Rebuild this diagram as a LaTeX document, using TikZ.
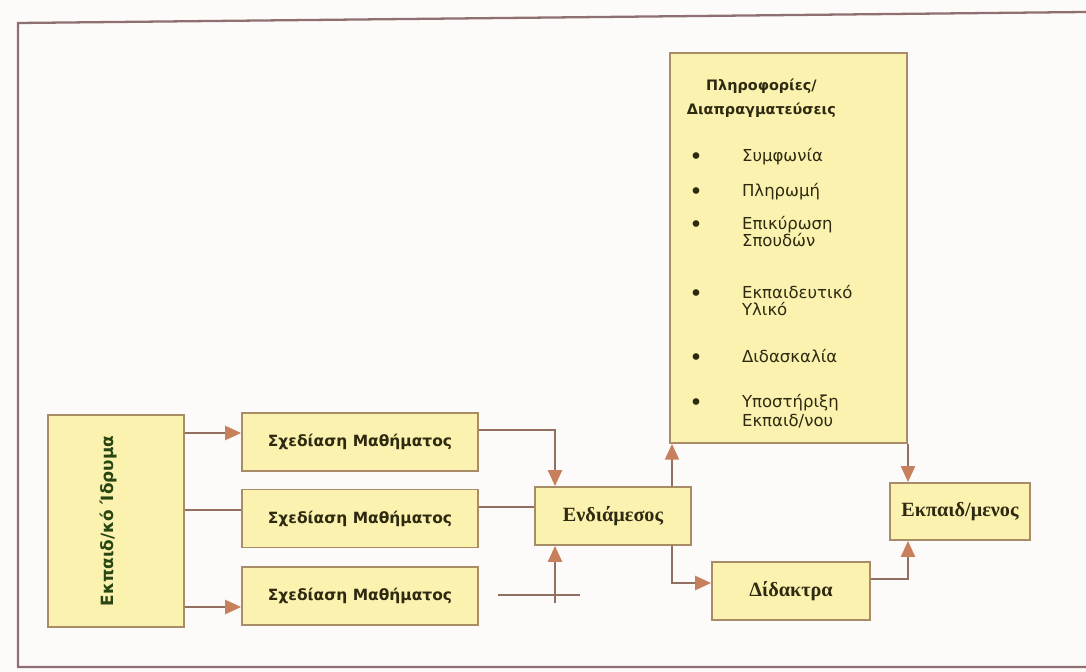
\documentclass[tikz,border=0pt]{standalone}
\usepackage{fontspec}
\setmainfont{Liberation Serif}
\setsansfont{DejaVu Sans}
\usepackage{graphicx}
\usetikzlibrary{arrows.meta,positioning}
\usepackage{xcolor}
\definecolor{edpaper}{RGB}{253,250,250}
\definecolor{edfill}{RGB}{252,242,176}
\definecolor{ededge}{RGB}{168,140,104}
\definecolor{edline}{RGB}{145,112,98}
\definecolor{edtip}{RGB}{200,128,92}
\definecolor{edtext}{RGB}{46,42,16}
\definecolor{edgreen}{RGB}{40,70,18}
\definecolor{edframe}{RGB}{142,112,112}
\tikzset{
    box/.style={
        draw=ededge,line width=1.1pt,fill=edfill,inner sep=0pt,
        align=center,text=edtext,font=\sffamily\bfseries\fontsize{8.8}{10}\selectfont
    },
    serifbox/.style={
        box,font=\rmfamily\bfseries\fontsize{11.5}{13}\selectfont
    },
    link/.style={
        draw=edline,line width=1.1pt
    },
    arrow/.style={
        link,-{Triangle[length=9pt,width=8pt,color=edtip]}
    }
}
\newcommand\infobul{\hspace*{11pt}\makebox[30pt][l]{\raisebox{-1.8pt}{\fontsize{13}{10}\selectfont\textbullet}}}
\newcommand\infoind{\hspace*{41pt}}

\begin{document}
\begin{tikzpicture}[x=0.02cm,y=-0.02cm]
\useasboundingbox (0,0) rectangle (1086,672);
\fill[edpaper] (0,0) rectangle (1086,672);

% outer frame
\draw[edframe,line width=1.3pt] (1086,12) -- (18,23) -- (18,667) -- (1086,667);

\node[box,minimum width=2.72cm,minimum height=4.24cm,text=edgreen,
font=\sffamily\bfseries\fontsize{9.6}{11}\selectfont]
(inst) at (116,521) {\rotatebox{90}{Εκπαιδ/κό Ίδρυμα}\hspace*{9pt}};

\node[box,minimum width=4.72cm,minimum height=1.16cm] (des1) at (360,442) {Σχεδίαση Μαθήματος};
\node[box,minimum width=4.72cm,minimum height=1.16cm] (des2) at (360,518.5) {Σχεδίαση Μαθήματος};
\node[box,minimum width=4.72cm,minimum height=1.16cm] (des3) at (360,596) {Σχεδίαση Μαθήματος};

\node[serifbox,minimum width=3.12cm,minimum height=1.16cm] (mid) at (613,516) {Ενδιάμεσος};
\node[serifbox,minimum width=3.16cm,minimum height=1.16cm] (fee) at (791,591) {Δίδακτρα};
\node[serifbox,minimum width=2.8cm,minimum height=1.14cm] (learner) at (960,511.5) {Εκπαιδ/μενος};

\node[box,text width=4.74cm,minimum height=7.8cm,align=left,
font=\sffamily\fontsize{9.4}{10.5}\selectfont]
(info) at (788.5,248)
{\mbox{}\\[2.5pt]
\makebox[104pt]{\fontsize{8.2}{10}\selectfont\bfseries Πληροφορίες/}\\[3pt]
\makebox[104pt]{\fontsize{8.2}{10}\selectfont\bfseries Διαπραγματεύσεις}\\[16pt]
\infobul Συμφωνία\\[9.5pt]
\infobul Πληρωμή\\[8.5pt]
\infobul Επικύρωση\\[-1pt]
\infoind Σπουδών\\[19pt]
\infobul Εκπαιδευτικό\\[-0.5pt]
\infoind Υλικό\\[16pt]
\infobul Διδασκαλία\\[15pt]
\infobul Υποστήριξη\\[0.5pt]
\infoind Εκπαιδ/νου};

% from the institution
\coordinate (y1) at (0,433);
\coordinate (y2) at (0,510);
\coordinate (y3) at (0,607);
\draw[arrow] (inst.east |- y1) -- (des1.west |- y1);
\draw[link] (inst.east |- y2) -- (des2.west |- y2);
\draw[arrow] (inst.east |- y3) -- (des3.west |- y3);

% into the intermediary
\coordinate (j1) at (555,430);
\draw[arrow] (des1.east |- j1) -- (j1) -- (j1 |- mid.north);
\coordinate (y4) at (0,507);
\draw[link] (des2.east |- y4) -- (mid.west |- y4);
\coordinate (inb) at (555,603);
\coordinate (hl) at (498,595);
\coordinate (hr) at (580,595);
\draw[link] (hl) -- (hr);
\draw[arrow] (inb) -- (inb |- mid.south);

% out of the intermediary
\coordinate (x1) at (672,0);
\coordinate (x2) at (908,0);
\coordinate (y5) at (0,583);
\coordinate (y6) at (0,579);
\draw[arrow] (mid.north -| x1) -- (info.south -| x1);
\draw[arrow] (mid.south -| x1) |- (fee.west |- y5);
\draw[arrow] (fee.east |- y6) -| (learner.south -| x2);
\draw[arrow] (info.south -| x2) -- (learner.north -| x2);

\end{tikzpicture}
\end{document}
